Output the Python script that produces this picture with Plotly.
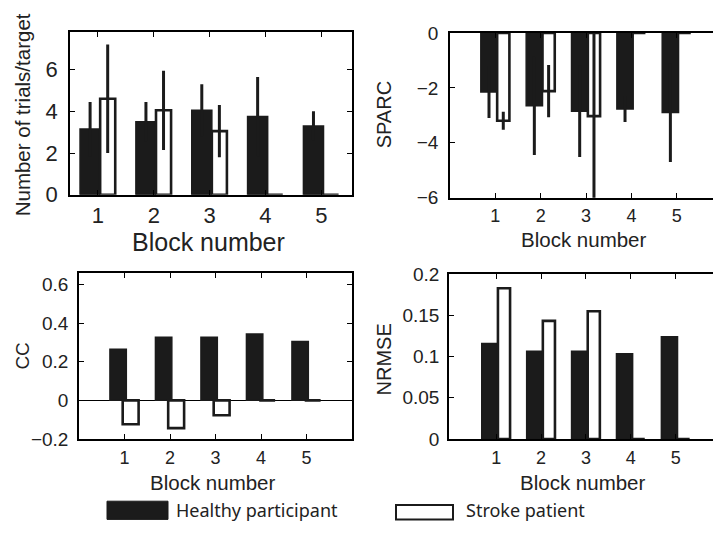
import plotly.graph_objects as go

blocks = [1, 2, 3, 4, 5]
block_labels = ["1", "2", "3", "4", "5"]

trials_healthy = [3.15, 3.5, 4.05, 3.75, 3.3]
trials_healthy_err = [1.3, 0.95, 1.25, 1.9, 0.7]
trials_stroke = [4.6, 4.05, 3.05, 0, 0]
trials_stroke_err = [2.6, 1.9, 1.25, 0, 0]

sparc_healthy = [-2.15, -2.65, -2.85, -2.77, -2.9]
sparc_healthy_err = [0.95, 1.8, 1.67, 0.47, 1.8]
sparc_stroke = [-3.2, -2.12, -3.03, 0, 0]
sparc_stroke_err = [0.33, 0.95, 3.1, 0, 0]

cc_healthy = [0.265, 0.327, 0.327, 0.344, 0.305]
cc_stroke = [-0.124, -0.144, -0.077, 0, 0]

nrmse_healthy = [0.116, 0.1065, 0.1065, 0.1035, 0.124]
nrmse_stroke = [0.183, 0.1434, 0.155, 0, 0]

legend_names = ["Healthy participant", "Stroke patient"]

BLACK = "#1b1b1b"
FONT = "Liberation Sans"
TXT = "#222222"
W, H = 713, 541

fig = go.Figure()


def add_pair(idx, healthy, stroke, h_err=None, s_err=None, s_offset=0.04, s_width=0.27):
    xa = "x" if idx == 1 else f"x{idx}"
    ya = "y" if idx == 1 else f"y{idx}"
    herr = dict(type="data", array=h_err, color=BLACK, thickness=3, width=0) if h_err else None
    serr = dict(type="data", array=s_err, color=BLACK, thickness=3, width=0) if s_err else None
    fig.add_trace(go.Bar(
        x=blocks, y=healthy, offset=-0.32, width=0.36, name=legend_names[0],
        marker=dict(color=BLACK, line=dict(color=BLACK, width=1.5)),
        error_y=herr, xaxis=xa, yaxis=ya, showlegend=False))
    fig.add_trace(go.Bar(
        x=blocks, y=stroke, offset=s_offset, width=s_width, name=legend_names[1],
        marker=dict(color="white", line=dict(color=BLACK, width=2.6)),
        error_y=serr, xaxis=xa, yaxis=ya, showlegend=False))


add_pair(1, trials_healthy, trials_stroke, trials_healthy_err, trials_stroke_err)
add_pair(2, sparc_healthy, sparc_stroke, sparc_healthy_err, sparc_stroke_err)
add_pair(3, cc_healthy, cc_stroke, s_offset=-0.04, s_width=0.35)
add_pair(4, nrmse_healthy, nrmse_stroke)


def px_x(p):
    return p / W


def px_y(p):
    return 1 - p / H


def xaxis(dom, rng, size, standoff, anchor):
    return dict(domain=dom, range=rng, tickvals=blocks, ticktext=block_labels,
                ticks="inside", ticklen=5, tickcolor="black", showline=True,
                linecolor="black", linewidth=1.5, mirror="ticks", showgrid=False,
                zeroline=False, tickfont=dict(size=size, color=TXT, family=FONT),
                ticklabelstandoff=standoff, anchor=anchor)


def yaxis(dom, rng, vals, texts, size, standoff, anchor, mirror, zeroline=False):
    return dict(domain=dom, range=rng, tickvals=vals, ticktext=texts,
                ticks="inside", ticklen=5, tickcolor="black", showline=True,
                linecolor="black", linewidth=1.5, mirror=mirror, showgrid=False,
                zeroline=zeroline, zerolinecolor="black", zerolinewidth=1,
                tickfont=dict(size=size, color=TXT, family=FONT),
                ticklabelstandoff=standoff, anchor=anchor)


fig.update_layout(
    width=W, height=H, margin=dict(l=0, r=0, t=0, b=0),
    paper_bgcolor="white", plot_bgcolor="white", barmode="overlay",
    font=dict(family=FONT, color=TXT),
    xaxis=xaxis([px_x(70), px_x(352)], [0.5, 5.55], 22, 0, "y"),
    yaxis=yaxis([px_y(193), px_y(23)], [0, 7.8], [0, 2, 4, 6],
                ["0", "2", "4", "6"], 22, 6, "x", "ticks"),
    xaxis2=xaxis([px_x(450), 1.0], [0, 5.8], 18, 1, "y2"),
    yaxis2=yaxis([px_y(196), px_y(24)], [-6, 0], [-6, -4, -2, 0],
                 ["−6", "−4", "−2", "0"], 19, 6, "x2", False),
    xaxis3=xaxis([px_x(79), px_x(352)], [0, 6], 18, 2, "y3"),
    yaxis3=yaxis([px_y(448), px_y(275)], [-0.2, 0.658], [-0.2, 0, 0.2, 0.4, 0.6],
                 ["−0.2", "0", "0.2", "0.4", "0.6"], 19, 5, "x3", "ticks", zeroline=True),
    xaxis4=xaxis([px_x(449), 1.0], [-0.05, 5.83], 18, 2, "y4"),
    yaxis4=yaxis([px_y(448), px_y(276)], [0, 0.2], [0, 0.05, 0.1, 0.15, 0.2],
                 ["0", "0.05", "0.1", "0.15", "0.2"], 19, 4, "x4", False),
)

titles = [
    ("Block number", 208, 242, 25, 0),
    ("Number of trials/target", 22, 110, 20.5, -90),
    ("Block number", 584, 240, 20.5, 0),
    ("SPARC", 384, 110, 20, -90),
    ("Block number", 213, 493, 20.5, 0),
    ("CC", 23, 362, 19, -90),
    ("Block number", 583, 493, 20.5, 0),
    ("NRMSE", 384, 365, 20, -90),
]
for text, x, y, size, ang in titles:
    fig.add_annotation(text=text, x=px_x(x), y=px_y(y), xref="paper", yref="paper",
                       showarrow=False, xanchor="center", yanchor="middle",
                       textangle=ang, font=dict(size=size, color=TXT, family=FONT))

# legend drawn as shapes + text
fig.add_shape(type="rect", xref="paper", yref="paper",
              x0=px_x(107), x1=px_x(168), y0=px_y(532), y1=px_y(513),
              fillcolor=BLACK, line=dict(color=BLACK, width=1))
fig.add_shape(type="rect", xref="paper", yref="paper",
              x0=px_x(396), x1=px_x(453), y0=px_y(532), y1=px_y(517),
              fillcolor="white", line=dict(color=BLACK, width=2))
fig.add_annotation(text=legend_names[0], x=px_x(174), y=px_y(522), xref="paper", yref="paper",
                   showarrow=False, xanchor="left", yanchor="middle",
                   font=dict(size=18, color=TXT, family="Noto Sans"))
fig.add_annotation(text=legend_names[1], x=px_x(464), y=px_y(522), xref="paper", yref="paper",
                   showarrow=False, xanchor="left", yanchor="middle",
                   font=dict(size=18, color=TXT, family="Noto Sans"))

fig.write_html("out.html")
